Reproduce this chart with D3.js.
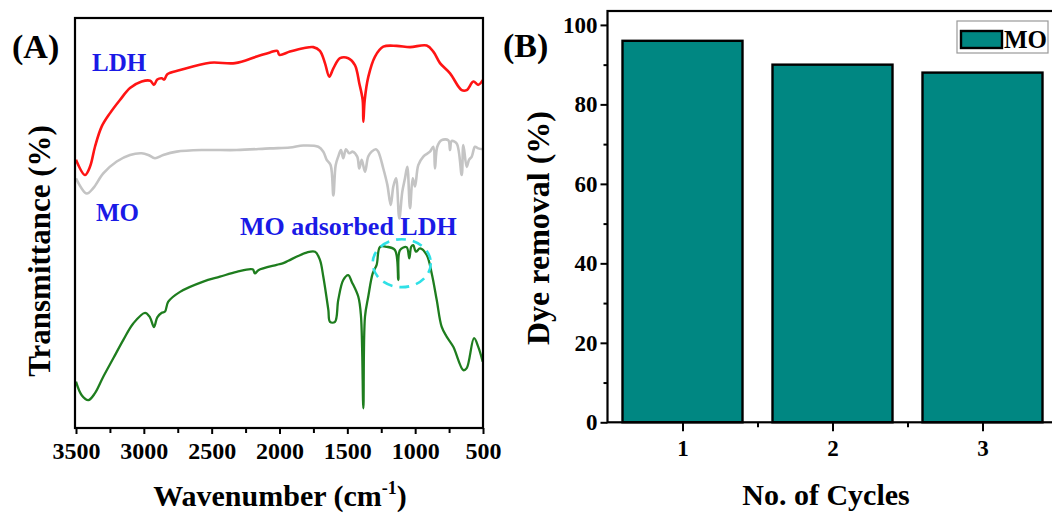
<!DOCTYPE html>
<html>
<head>
<meta charset="utf-8">
<script src="https://cdn.jsdelivr.net/npm/d3@7"></script>
<style>
  html, body { margin: 0; padding: 0; background: #fff; }
  svg { display: block; }
  text { font-family: "Liberation Serif", "Times New Roman", serif; font-weight: bold; }
</style>
</head>
<body>
<svg id="chart" width="1052" height="513"></svg>
<script>
// ---------- Panel A data: FTIR spectra (wavenumber, transmittance a.u.) ----------
const ldhWn = [3500,3434,3397,3360,3311,3249,3176,3102,3016,2953,2925,2901,2868,2849,2827,2733,2512,2328,2168,2070,2016,2001,1923,1825,1751,1702,1665,1633,1603,1554,1493,1444,1412,1387,1382,1372,1345,1296,1235,1136,1038,915,866,817,743,657,620,571,535,500];
const ldhT  = [65.4,61.7,63.7,68.6,73.5,76.8,80.0,82.9,84.5,84.7,83.7,85.0,85.3,85.0,86.3,87.3,89.1,89.0,90.6,91.6,92.0,91.0,91.8,92.6,92.9,92.0,89.0,85.7,87.7,90.2,90.2,88.5,84.1,80.0,74.7,80.0,85.7,90.6,93.0,93.2,92.9,93.3,91.8,89.0,86.5,82.4,82.4,84.5,83.7,84.9];

const moWn = [3500,3421,3373,3299,3200,3102,3016,2967,2918,2857,2758,2562,2316,2070,1923,1825,1714,1677,1652,1623,1603,1586,1567,1547,1530,1510,1486,1460,1427,1412,1394,1370,1346,1321,1289,1272,1235,1205,1180,1161,1141,1117,1095,1075,1058,1038,1018,1001,977,940,891,866,854,837,805,756,743,731,694,657,645,620,603,583,559,535,500];
const moT  = [60.9,57.2,58.5,62.1,65.0,66.6,67.0,66.6,65.8,66.6,67.4,67.8,67.8,68.2,68.4,68.9,68.6,67.4,65.4,64.1,56.7,64.1,66.2,67.8,65.8,68.0,67.0,67.4,66.2,63.3,65.4,62.5,66.2,67.4,68.0,67.4,63.3,59.3,54.4,58.9,60.9,51.1,57.6,60.9,63.7,53.6,60.9,58.9,64.1,66.2,67.4,68.6,63.3,68.6,70.2,70.2,67.8,70.0,69.4,61.7,69.0,63.7,65.4,66.2,68.6,68.2,68.0];

const moLdhWn = [3500,3458,3409,3360,3299,3225,3151,3078,2991,2955,2925,2901,2868,2844,2820,2733,2562,2439,2316,2198,2181,2156,2021,1972,1935,1800,1738,1702,1677,1640,1628,1591,1567,1530,1493,1468,1419,1399,1382,1370,1346,1313,1284,1259,1210,1149,1124,1112,1063,1043,1029,1014,994,964,915,878,841,805,768,719,645,620,566,535,502];
const moLdhT  = [11.3,8.0,6.8,8.5,12.5,17.0,21.5,25.5,28.1,27.0,24.6,27.0,28.1,28.4,30.8,33.2,35.7,36.9,38.1,38.7,37.7,38.5,39.8,40.2,40.8,42.8,43.0,41.0,36.9,28.8,25.9,25.9,31.2,36.1,37.3,35.7,32.0,27.1,4.8,27.1,32.0,37.7,39.8,44.2,44.2,43.4,36.1,43.4,44.1,41.4,44.2,44.6,43.0,43.8,42.2,37.7,31.2,24.7,22.3,19.8,14.1,14.6,21.9,19.8,16.2];

const wnMajorTicks = [3500,3000,2500,2000,1500,1000,500];
const wnMinorTicks = [3250,2750,2250,1750,1250,750];

// ---------- Panel B data: dye removal per cycle ----------
const cycles = [1, 2, 3];
const dyeRemoval = [96, 90, 88];
const removalTicks = [0, 20, 40, 60, 80, 100];
const removalMinorTicks = [10, 30, 50, 70, 90];
const cycleMinorTicks = [1.5, 2.5];

const svg = d3.select("#chart");

// ================= Panel A =================
const A = { left: 75, right: 483, top: 18, bottom: 428 };
const xA = d3.scaleLinear().domain([3500, 500]).range([76, 483]);
const yA = d3.scaleLinear().domain([0, 100]).range([A.bottom, A.top]);

const line = (wn, t) => d3.line()
  .curve(d3.curveCatmullRom.alpha(0.5))
  .x((d, i) => xA(wn[i])).y((d, i) => yA(t[i]))(wn);

const gA = svg.append("g");
gA.append("path").attr("d", line(moWn, moT)).attr("fill", "none")
  .attr("stroke", "#c4c4c4").attr("stroke-width", 2.6).attr("stroke-linejoin", "round");
gA.append("path").attr("d", line(ldhWn, ldhT)).attr("fill", "none")
  .attr("stroke", "#ff1414").attr("stroke-width", 2.6).attr("stroke-linejoin", "round");
gA.append("path").attr("d", line(moLdhWn, moLdhT)).attr("fill", "none")
  .attr("stroke", "#1e7d1e").attr("stroke-width", 2.3).attr("stroke-linejoin", "round");

// dashed annotation ellipse
const ann = { wn: 1099, t: 40.2, dWn: 214, dT: 5.85 };
gA.append("ellipse")
  .attr("cx", xA(ann.wn)).attr("cy", yA(ann.t))
  .attr("rx", Math.abs(xA(ann.wn - ann.dWn) - xA(ann.wn)))
  .attr("ry", Math.abs(yA(ann.t + ann.dT) - yA(ann.t)))
  .attr("fill", "none").attr("stroke", "#2fe0e6").attr("stroke-width", 2.6)
  .attr("stroke-dasharray", "10,7");

// frame
gA.append("rect").attr("x", A.left).attr("y", A.top)
  .attr("width", A.right - A.left).attr("height", A.bottom - A.top)
  .attr("fill", "none").attr("stroke", "#000").attr("stroke-width", 2.2);

// x axis
const axA = gA.append("g").attr("transform", `translate(0,${A.bottom})`)
  .call(d3.axisBottom(xA).tickValues(wnMajorTicks).tickSize(6).tickSizeOuter(0).tickPadding(8).tickFormat(d3.format("d")));
axA.select(".domain").remove();
axA.selectAll(".tick line").attr("stroke", "#000").attr("stroke-width", 2);
axA.selectAll(".tick text").attr("font-size", 24).attr("fill", "#000")
  .attr("font-family", "Liberation Serif, Times New Roman, serif").attr("font-weight", "bold");
gA.append("g").attr("transform", `translate(0,${A.bottom})`)
  .call(d3.axisBottom(xA).tickValues(wnMinorTicks).tickSize(5).tickFormat(""))
  .call(g => g.select(".domain").remove())
  .selectAll(".tick line").attr("stroke", "#000").attr("stroke-width", 2);

// labels
gA.append("text").attr("x", 12).attr("y", 58).attr("font-size", 34).attr("fill", "#000").text("(A)");
const blue = "#1a1ae6";
gA.append("text").attr("x", 92).attr("y", 71).attr("font-size", 25).attr("fill", blue).text("LDH");
gA.append("text").attr("x", 96).attr("y", 221).attr("font-size", 25).attr("fill", blue).text("MO");
gA.append("text").attr("x", 240).attr("y", 235).attr("font-size", 26).attr("fill", blue).text("MO adsorbed LDH");

const xt = gA.append("text").attr("x", 280).attr("y", 506).attr("text-anchor", "middle")
  .attr("font-size", 30).attr("fill", "#000");
xt.append("tspan").text("Wavenumber (cm");
xt.append("tspan").attr("dy", -12).attr("font-size", 18).text("-1");
xt.append("tspan").attr("dy", 12).text(")");

gA.append("text").attr("transform", "translate(50,251) rotate(-90)")
  .attr("text-anchor", "middle").attr("font-size", 31).attr("fill", "#000")
  .text("Transmittance (%)");

// ================= Panel B =================
const B = { left: 607.5, top: 11, bottom: 422.3 };
const xB = d3.scaleLinear().domain([0.5, 3.5]).range([B.left, B.left + 450]);
const yB = d3.scaleLinear().domain([0, 103.5]).range([B.bottom, B.top]);
const barW = 0.8;
const teal = "#008782";

const gB = svg.append("g");
gB.selectAll("rect.bar").data(cycles).join("rect").attr("class", "bar")
  .attr("x", d => xB(d - barW / 2))
  .attr("width", d => xB(d + barW / 2) - xB(d - barW / 2))
  .attr("y", (d, i) => yB(dyeRemoval[i]))
  .attr("height", (d, i) => yB(0) - yB(dyeRemoval[i]))
  .attr("fill", teal).attr("stroke", "#000").attr("stroke-width", 2.4);

// frame (left, top, bottom; right edge falls outside the picture)
gB.append("rect").attr("x", B.left).attr("y", B.top)
  .attr("width", xB(3.5) - B.left).attr("height", B.bottom - B.top)
  .attr("fill", "none").attr("stroke", "#000").attr("stroke-width", 2.2);

// y axis
const ayB = gB.append("g").attr("transform", `translate(${B.left},0)`)
  .call(d3.axisLeft(yB).tickValues(removalTicks).tickSize(7).tickPadding(3).tickFormat(d3.format("d")));
ayB.select(".domain").remove();
ayB.selectAll(".tick line").attr("stroke", "#000").attr("stroke-width", 2);
ayB.selectAll(".tick text").attr("font-size", 23).attr("fill", "#000")
  .attr("font-family", "Liberation Serif, Times New Roman, serif").attr("font-weight", "bold");
gB.append("g").attr("transform", `translate(${B.left},0)`)
  .call(d3.axisLeft(yB).tickValues(removalMinorTicks).tickSize(4).tickFormat(""))
  .call(g => g.select(".domain").remove())
  .selectAll(".tick line").attr("stroke", "#000").attr("stroke-width", 2);

// x axis
const axB = gB.append("g").attr("transform", `translate(0,${B.bottom})`)
  .call(d3.axisBottom(xB).tickValues(cycles).tickSize(9).tickPadding(8).tickFormat(d3.format("d")));
axB.select(".domain").remove();
axB.selectAll(".tick line").attr("stroke", "#000").attr("stroke-width", 2);
axB.selectAll(".tick text").attr("font-size", 23).attr("fill", "#000")
  .attr("font-family", "Liberation Serif, Times New Roman, serif").attr("font-weight", "bold");
gB.append("g").attr("transform", `translate(0,${B.bottom})`)
  .call(d3.axisBottom(xB).tickValues(cycleMinorTicks).tickSize(5).tickFormat(""))
  .call(g => g.select(".domain").remove())
  .selectAll(".tick line").attr("stroke", "#000").attr("stroke-width", 2);

// legend
const lg = gB.append("g");
lg.append("rect").attr("x", 957).attr("y", 21).attr("width", 91).attr("height", 32)
  .attr("fill", "#fff").attr("stroke", "#999").attr("stroke-width", 1.2);
lg.append("rect").attr("x", 961).attr("y", 31).attr("width", 41).attr("height", 17)
  .attr("fill", teal).attr("stroke", "#000").attr("stroke-width", 2.4);
lg.append("text").attr("x", 1004).attr("y", 48).attr("font-size", 25).attr("fill", "#000").text("MO");

gB.append("text").attr("x", 503).attr("y", 57).attr("font-size", 34).attr("fill", "#000").text("(B)");
gB.append("text").attr("transform", "translate(549,228) rotate(-90)")
  .attr("text-anchor", "middle").attr("font-size", 32).attr("fill", "#000")
  .text("Dye removal (%)");
gB.append("text").attr("x", 826).attr("y", 505).attr("text-anchor", "middle")
  .attr("font-size", 30).attr("fill", "#000").text("No. of Cycles");
</script>
</body>
</html>
